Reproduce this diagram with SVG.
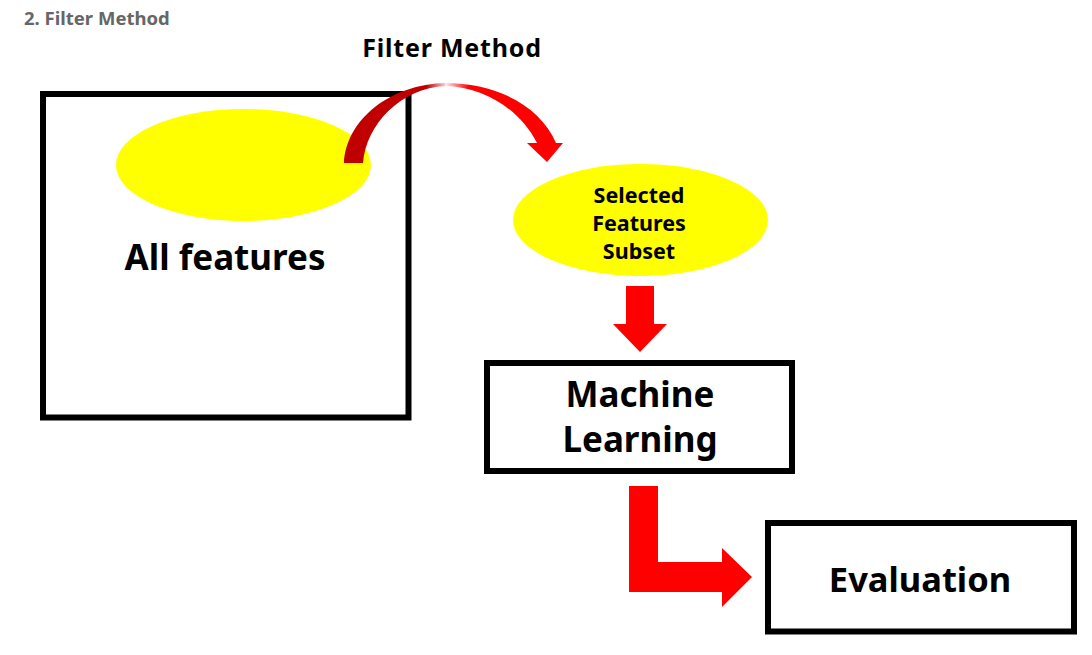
<svg xmlns="http://www.w3.org/2000/svg" width="1092" height="655" viewBox="0 0 1092 655">
<style>
.box{fill:none;stroke:#000;stroke-width:6}
.ell{fill:#ffff00}
.arr{fill:#ff0000}
.t{font-family:"Noto Sans","Open Sans","Liberation Sans",sans-serif;font-weight:bold;fill:#000;text-anchor:middle}
</style>
<defs>
<linearGradient id="gl" gradientUnits="userSpaceOnUse" x1="344" y1="0" x2="447" y2="0">
<stop offset="0.8" stop-color="#c00000"/><stop offset="1" stop-color="#f8e0e0"/>
</linearGradient>
<linearGradient id="gr" gradientUnits="userSpaceOnUse" x1="445" y1="0" x2="563" y2="0">
<stop offset="0" stop-color="#fff0f0"/><stop offset="0.2" stop-color="#ff0000"/>
</linearGradient>
</defs>
<rect width="1092" height="655" fill="#fff"/>
<text x="24" y="25" font-family="'Noto Sans','Open Sans',sans-serif" font-weight="bold" font-size="18.5" fill="#666">2. Filter Method</text>
<g id="all-features">
<rect class="box" x="43" y="94" width="365.5" height="323.5"/>
<ellipse class="ell" cx="243.5" cy="165" rx="127.5" ry="56"/>
<text class="t" x="225" y="270" font-size="35">All features</text>
</g>
<g id="filter-method">
<text class="t" x="452" y="57" font-size="25" letter-spacing="0.8">Filter Method</text>
</g>
<g id="selected-subset">
<ellipse class="ell" cx="640.5" cy="220" rx="127.5" ry="56"/>
<text class="t" x="639" y="203" font-size="21.5">Selected</text>
<text class="t" x="639" y="231" font-size="21.5">Features</text>
<text class="t" x="639" y="259" font-size="21.5">Subset</text>
</g>
<g id="machine-learning">
<rect class="box" x="487" y="363" width="305" height="108"/>
<text class="t" x="640" y="407" font-size="35">Machine</text>
<text class="t" x="640" y="452" font-size="35">Learning</text>
</g>
<g id="evaluation">
<rect class="box" x="768" y="523" width="306" height="108.5"/>
<text class="t" x="920" y="592" font-size="34.5">Evaluation</text>
</g>
<g id="connectors">
<path fill="url(#gl)" d="M344,163 C346,120 390,84 446,83 L446,86 C400,88 366,125 363,163 Z"/>
<path fill="url(#gr)" d="M445,83 C495,83 540,105 556,143 L563,143 L547,162 L527,143 L537,143 C520,110 485,87 445,86 Z"/>
<polygon class="arr" points="626,286 654,286 654,324 667,324 640,352 613,324 626,324"/>
<polygon class="arr" points="629,486 658,486 658,562 722,562 722,548 752,577 722,607 722,592 629,592"/>
</g>
</svg>
